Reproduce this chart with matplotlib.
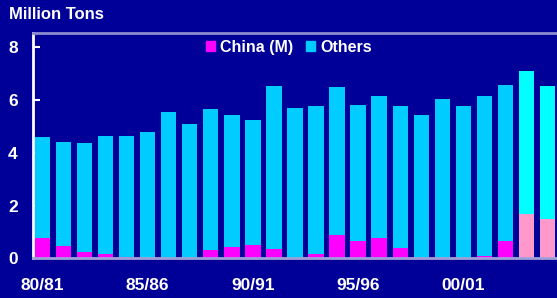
import numpy as np
import matplotlib.pyplot as plt

plt.rcParams['font.family'] = ['Liberation Sans', 'DejaVu Sans']
plt.rcParams['font.weight'] = 'bold'

# crop years 80/81 .. 04/05, last two are forecasts
seasons = ['80/81', '81/82', '82/83', '83/84', '84/85', '85/86', '86/87', '87/88',
           '88/89', '89/90', '90/91', '91/92', '92/93', '93/94', '94/95', '95/96',
           '96/97', '97/98', '98/99', '99/00', '00/01', '01/02', '02/03', '03/04', '04/05']
totals = [4.60, 4.41, 4.37, 4.64, 4.64, 4.79, 5.55, 5.09, 5.67, 5.44, 5.25, 6.54,
          5.70, 5.78, 6.50, 5.82, 6.16, 5.78, 5.44, 6.04, 5.78, 6.16, 6.58, 7.11, 6.54]
china = [0.78, 0.48, 0.25, 0.17, 0.05, 0.0, 0.0, 0.0, 0.33, 0.43, 0.50, 0.35,
         0.03, 0.17, 0.88, 0.66, 0.78, 0.40, 0.03, 0.0, 0.03, 0.10, 0.66, 1.69, 1.49]
n_forecast = 2
shown_labels = ['80/81', '85/86', '90/91', '95/96', '00/01']

others = [t - c for t, c in zip(totals, china)]
x = np.arange(len(seasons))
bg = '#000099'
china_col = ['#ff00ff'] * (len(x) - n_forecast) + ['#ff99cc'] * n_forecast
others_col = ['#00ccff'] * (len(x) - n_forecast) + ['#00ffff'] * n_forecast

fig = plt.figure(figsize=(5.57, 2.98), dpi=100, facecolor=bg)
ax = fig.add_axes([0.0592, 0.1332, 0.9408, 0.7544])
ax.set_facecolor(bg)

ax.bar(x, china, width=0.73, color=china_col, label='China (M)', zorder=2)
ax.bar(x, others, bottom=china, width=0.73, color=others_col, label='Others', zorder=2)

ax.set_xlim(-0.45, 24.45)
ax.set_ylim(0, 8.53)
ax.set_yticks([0, 2, 4, 6, 8])
ax.set_xticks([seasons.index(s) for s in shown_labels])
ax.set_xticklabels(shown_labels)

ax.tick_params(axis='y', direction='in', length=5, width=1.5, color='white',
               labelcolor='white', labelsize=12.5, pad=11)
ax.tick_params(axis='x', length=0, labelcolor='white', labelsize=12.5, pad=14)

ax.spines['right'].set_visible(False)
ax.spines['left'].set_color('white')
ax.spines['left'].set_linewidth(2)
ax.spines['top'].set_color('#8c8cd0')
ax.spines['top'].set_linewidth(2)
ax.spines['bottom'].set_color('#a0a0d8')
ax.spines['bottom'].set_linewidth(2)
ax.spines['bottom'].set_zorder(3)

leg = ax.legend(loc='upper center', bbox_to_anchor=(0.488, 1.035), ncol=2, frameon=False,
                fontsize=11.5, handlelength=0.6, handleheight=0.6, handletextpad=0.3,
                columnspacing=0.8, labelcolor='white')
for h, c in zip(leg.legend_handles, ['#ff00ff', '#00ccff']):
    h.set_color(c)

fig.text(0.016, 0.95, 'Million Tons', color='white', fontsize=12, fontweight='bold',
         ha='left', va='center')

fig.savefig('out.png', dpi=100, facecolor=bg)
